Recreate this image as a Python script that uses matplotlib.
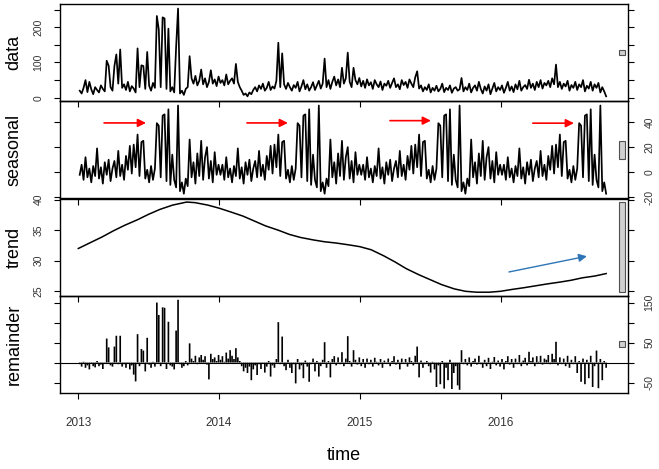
import numpy as np
import matplotlib
matplotlib.use('Agg')
import matplotlib.pyplot as plt
import matplotlib.transforms as mtransforms
from matplotlib.patches import Rectangle

plt.rcParams['font.family'] = ['Liberation Sans', 'DejaVu Sans']

#### values (one value every 5 days, from early 2013) ####

start_year = 2013.01
step_days = 5

data_values = [
    20, 12, 28, 50, 16, 45, 24, 10, 30, 22,
    15, 35, 25, 18, 105, 91, 30, 20, 90, 123,
    40, 137, 28, 38, 22, 45, 18, 33, 26, 15,
    140, 30, 92, 90, 25, 130, 34, 20, 42, 28,
    232, 194, 30, 228, 225, 25, 196, 18, 30, 15,
    144, 253, 12, 20, 8, 25, 30, 118, 55, 40,
    62, 35, 48, 80, 38, 55, 30, 45, 78, 40,
    52, 33, 60, 42, 50, 35, 66, 38, 48, 55,
    40, 96, 45, 30, 20, 8, 12, 4, 15, 10,
    22, 30, 18, 35, 25, 40, 20, 28, 45, 22,
    32, 26, 48, 156, 30, 126, 38, 25, 42, 30,
    20, 36, 28, 45, 18, 32, 50, 24, 38, 20,
    30, 44, 22, 35, 48, 26, 40, 111, 30, 50,
    25, 45, 60, 35, 52, 30, 85, 40, 55, 128,
    45, 30, 85, 50, 38, 56, 32, 48, 28, 52,
    35, 44, 25, 50, 38, 30, 46, 22, 40, 34,
    48, 28, 42, 55, 30, 38, 24, 50, 36, 45,
    28, 52, 40, 30, 58, 75, 26, 35, 18, 30,
    22, 38, 15, 28, 20, 34, 18, 25, 40, 16,
    28, 22, 35, 14, 26, 30, 20, 24, 56, 18,
    30, 22, 40, 15, 28, 35, 20, 45, 25, 12,
    32, 20, 38, 10, 26, 42, 18, 30, 22, 35,
    14, 28, 45, 20, 32, 16, 38, 24, 48, 20,
    30, 36, 25, 51, 28, 40, 22, 45, 30, 50,
    26, 42, 35, 48, 30, 55, 38, 94, 30, 45,
    25, 40, 32, 48, 20, 36, 28, 45, 22, 38,
    30, 50, 18, 34, 26, 45, 20, 38, 28, 42,
    15, 30, 18, 4,
]

# periodic seasonal component: one year (73 x 5 days), repeats every year
seasonal_year = [
    -2, 6, -6, 12, -4, 3, -8, 5, -3, 19,
    -5, 4, -9, 8, -2, 10, -7, 3, 9, -4,
    17, -3, 6, -6, 13, 2, 21, -1, 22, 4,
    30, -3, 24, 25, -5, 2, -8, 5, -6, 3,
    39, 37, -4, 45, 46, -7, 50, -10, 14, -6,
    -12, 53, -15, -8, -17, -5, -11, 26, -4, 8,
    -9, 15, -3, 25, -6, 12, 20, -5, 9, -8,
    16, -2, 6,
]

trend_years = [
    2013.00, 2013.08, 2013.17, 2013.25, 2013.33, 2013.42, 2013.50, 2013.58,
    2013.67, 2013.77, 2013.83, 2013.92, 2014.00, 2014.08, 2014.17, 2014.25,
    2014.33, 2014.42, 2014.50, 2014.58, 2014.67, 2014.75, 2014.83, 2014.92,
    2015.00, 2015.08, 2015.17, 2015.25, 2015.33, 2015.42, 2015.50, 2015.58,
    2015.67, 2015.75, 2015.83, 2015.92, 2016.00, 2016.08, 2016.17, 2016.25,
    2016.33, 2016.42, 2016.50, 2016.58, 2016.67, 2016.75,
]
trend_values = [
    32.0, 32.9, 33.9, 34.9, 35.8, 36.7, 37.6, 38.4,
    39.1, 39.6, 39.5, 39.1, 38.6, 38.0, 37.3, 36.5,
    35.7, 35.0, 34.3, 33.8, 33.4, 33.1, 32.9, 32.6,
    32.3, 31.8, 30.8, 29.8, 28.7, 27.7, 26.9, 26.1,
    25.4, 25.0, 24.85, 24.85, 25.0, 25.3, 25.6, 25.9,
    26.2, 26.5, 26.8, 27.2, 27.5, 27.9,
]

remainder_values = [
    -4, -10, 2, -13, -7, -17, -3, -9, -12, 4,
    -9, -5, -16, -2, 60, 38, -7, -10, 40, 67,
    -4, 67, -10, -4, -13, -2, -17, -7, -30, -47,
    71, -9, 34, 30, -22, 62, -5, -13, 2, -10,
    150, 119, -9, 138, 137, -16, 102, -7, -10, -17,
    80, 157, -4, -13, -9, 4, -7, 48, 10, 4,
    17, -4, 13, 19, 7, 16, -5, -42, 22, 9,
    13, 4, 19, 7, 16, 2, 25, 10, 31, 17,
    9, 36, 13, 4, -9, -22, -13, -26, -10, -44,
    -17, -7, -31, -4, -16, -2, -25, -10, 4, -35,
    -7, -13, 9, 101, -4, 65, -9, -19, 7, -13,
    -26, -4, -52, 9, -17, -7, -39, 5, -10, -48,
    -4, 10, -22, 4, -35, -9, 7, 51, -13, 4,
    -37, 9, 16, -7, 13, -4, 26, -9, 10, 66,
    4, -10, 31, 7, -5, 13, -9, 9, -13, 10,
    -4, 7, -10, 12, 2, -7, 9, -13, 5, -3,
    10, -9, 4, 16, -5, 7, -17, 10, -2, 9,
    -10, 13, 4, -7, 17, 40, -37, 5, -13, -4,
    4, -9, -25, 2, -17, -61, -7, -54, 4, -65,
    -13, -44, 7, -66, -26, -9, -57, -68, 31, -4,
    9, -7, 13, -10, 4, 10, -5, 17, -4, -13,
    7, -9, 12, -16, 2, 14, -7, 5, -10, 9,
    -17, 4, 16, -5, 9, -13, 10, -4, 19, -9,
    5, 12, -7, 27, 4, 13, -9, 16, 2, 17,
    -5, 10, 7, 19, -4, 22, 9, 52, -7, 13,
    -4, 10, -9, 17, -13, 7, -4, 16, -26, 4,
    -48, 10, -54, 7, -39, 17, -61, -9, 30, -64,
    9, -44, 4, -13,
]

year_ticks = [2013, 2014, 2015, 2016]

##############################################################################

t = start_year + np.arange(len(data_values)) * step_days / 365.0
seasonal = np.tile(seasonal_year, 4)[:len(data_values)]

W, H = 659, 469
fig = plt.figure(figsize=(W / 100, H / 100), dpi=100)

panel_top = 4
panel_h = 97.25
left_px, right_px = 60, 628

names = ['data', 'seasonal', 'trend', 'remainder']
ylims = [(-10, 266), (-20.8, 56.4), (24.27, 40.18), (-76, 167)]
yticks = [[0, 50, 100, 150, 200, 250], [-20, 0, 20, 40], [25, 30, 35, 40],
          [-50, 0, 50, 100, 150]]
ylabels = [['0', '', '100', '', '200', ''], ['-20', '0', '20', '40'],
           ['25', '30', '35', '40'], ['-50', '', '50', '', '150']]
bar_half = 7.4  # range bar, same data height in every panel

axes = []
for k in range(4):
    top = panel_top + k * panel_h
    ax = fig.add_axes([left_px / W, 1 - (top + panel_h) / H,
                       (right_px - left_px) / W, panel_h / H])
    ax.patch.set_visible(False)
    axes.append(ax)

    if k == 0:
        ax.plot(t, data_values, color='black', lw=1.25)
    elif k == 1:
        ax.plot(t, seasonal, color='black', lw=1.25)
    elif k == 2:
        ax.plot(trend_years, trend_values, color='black', lw=1.1)
    else:
        rem = ax.vlines(t, 0, remainder_values, color='black', lw=1.2)
        rem.set_snap(False)
        ax.axhline(0, color='black', lw=0.8)

    ax.set_xlim(2012.87, 2016.905)
    ax.set_ylim(*ylims[k])

    right = k % 2 == 1
    ax.set_yticks(yticks[k])
    ax.set_yticklabels(ylabels[k], rotation=90, va='center')
    ax.tick_params(axis='y', left=True, right=True, labelleft=not right,
                   labelright=right, direction='out', length=4, width=0.8,
                   pad=8, labelsize=7.5, labelcolor='#333333')
    ax.set_xticks(year_ticks)
    ax.set_xticklabels([str(y) for y in year_ticks])
    ax.tick_params(axis='x', direction='out', length=4, width=0.8,
                   labelbottom=(k == 3), pad=13, labelsize=8.5,
                   labelcolor='#333333')
    for sp in ax.spines.values():
        sp.set_linewidth(1.0)

    ax.text(-0.081, 0.5, names[k], transform=ax.transAxes, rotation=90,
            ha='center', va='center', fontsize=13)

    # grey range bar at the right
    mid = sum(ylims[k]) / 2
    trans = mtransforms.blended_transform_factory(ax.transAxes, ax.transData)
    ax.add_patch(Rectangle((0.9847, mid - bar_half), 0.0100, 2 * bar_half,
                           transform=trans, facecolor='#d0d0d0',
                           edgecolor='#505050', lw=0.8, clip_on=False))

# red arrows in the seasonal panel
red_arrows = [((2013.183, 39.2), (2013.481, 39.2)),
              ((2014.198, 39.2), (2014.489, 39.2)),
              ((2015.214, 41.0), (2015.505, 41.0)),
              ((2016.229, 39.0), (2016.521, 39.0))]
for a, b in red_arrows:
    axes[1].annotate('', xy=b, xytext=a,
                     arrowprops=dict(arrowstyle='-|>', color='red', lw=1.2,
                                     mutation_scale=12, shrinkA=0, shrinkB=0))

# blue arrow in the trend panel
axes[2].annotate('', xy=(2016.613, 30.74), xytext=(2016.059, 28.16),
                 arrowprops=dict(arrowstyle='-|>', color='#2e75b6', lw=1.0,
                                 mutation_scale=12, shrinkA=0, shrinkB=0))

fig.text((left_px + right_px) / 2 / W, 1 - 455 / H, 'time', ha='center',
         va='center', fontsize=13)

fig.savefig('out.png', dpi=100)
